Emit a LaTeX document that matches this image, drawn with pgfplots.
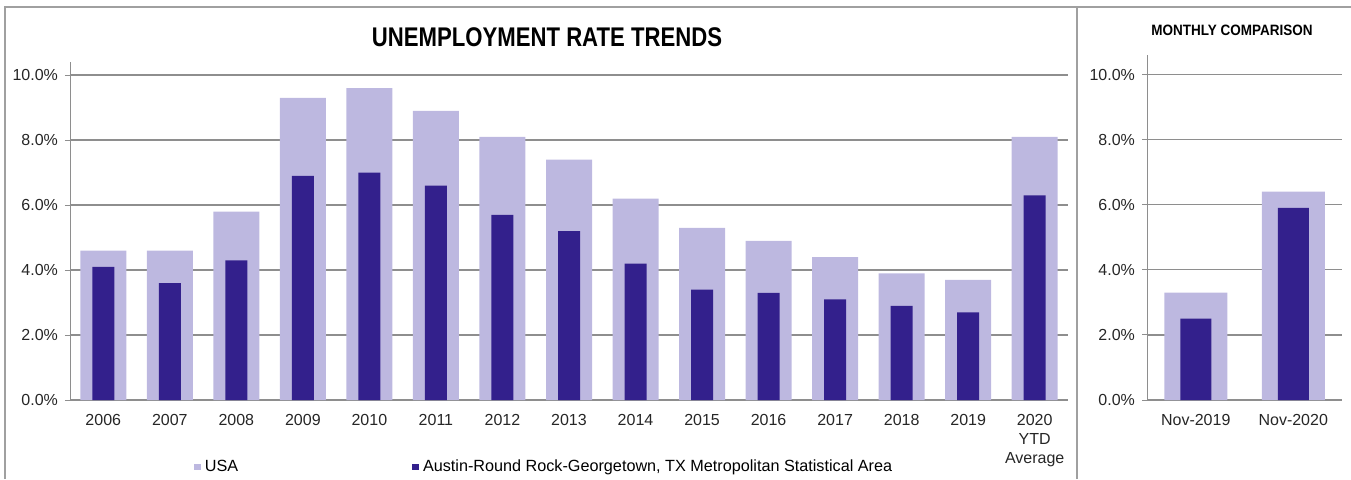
\documentclass[border=0pt]{standalone}
\usepackage{fontspec}
\setmainfont{Liberation Sans}
\newfontfamily\titlefont{Liberation Sans}[FakeStretch=0.82]
\newfontfamily\subtitlefont{Liberation Sans}[FakeStretch=0.9]
\usepackage{pgfplots}
\usepackage{pgfplotstable}
\pgfplotsset{compat=1.18}
\definecolor{usac}{HTML}{BDB8E0}
\definecolor{ausc}{HTML}{33208C}
\definecolor{gridc}{HTML}{8E8E8E}
\definecolor{framec}{HTML}{A0A0A0}

\pgfplotstableread{
x usa aus
0 4.6 4.1
1 4.6 3.6
2 5.8 4.3
3 9.3 6.9
4 9.6 7.0
5 8.9 6.6
6 8.1 5.7
7 7.4 5.2
8 6.2 4.2
9 5.3 3.4
10 4.9 3.3
11 4.4 3.1
12 3.9 2.9
13 3.7 2.7
14 8.1 6.3
}\annual

\pgfplotstableread{
x usa aus
0 3.3 2.5
1 6.4 5.9
}\monthly

\pgfplotsset{
  common/.style={
    scale only axis,
    ymin=0,
    axis x line*=bottom,
    axis y line*=left,
    axis line style={gridc,-},
    ymajorgrids,
    grid style={gridc,line width=0.6pt},
    ytick={0,2,4,6,8,10},
    yticklabel={\pgfmathprintnumber[fixed,fixed zerofill,precision=1]{\tick}\%},
    /pgf/number format/assume math mode=true,
    tick label style={font=\fontsize{8}{9.5}\selectfont, text=black!85},
    tick align=outside,
    major tick length=2.5pt,
    minor tick length=2.5pt,
    tick style={gridc, line width=0.5pt},
    xtick=data,
    x tick style={draw=none},
    minor x tick style={gridc, line width=0.5pt},
    xticklabel style={align=center, yshift=-1pt},
    clip=false,
  }
}

\begin{document}
\begin{tikzpicture}
\path[use as bounding box] (0pt,0pt) rectangle (675.5pt,239.5pt);
% frame
\draw[framec, line width=0.6pt] (2.5pt,0pt) -- (2.5pt,236pt) -- (675.5pt,236pt);
\draw[framec, line width=0.6pt] (538.5pt,0pt) -- (538.5pt,236pt);

\node[font=\titlefont\bfseries\fontsize{13.5}{15}\selectfont] at (273.5pt,221pt) {UNEMPLOYMENT RATE TRENDS};
\node[font=\subtitlefont\bfseries\fontsize{7.5}{9}\selectfont] at (616pt,224.5pt) {MONTHLY COMPARISON};

\begin{axis}[common,
  at={(35pt,39.5pt)}, anchor=south west,
  width=499pt, height=169pt,
  xmin=-0.5, xmax=14.5, ymax=10.4,
  minor xtick={-0.5,0.5,...,14.5},
  xticklabels={2006,2007,2008,2009,2010,2011,2012,2013,2014,2015,2016,2017,2018,2019,{2020\\YTD\\Average}},
  legend style={draw=none, fill=none, at={(0.124,-0.198)}, anchor=west,
    font=\fontsize{8.1}{9.5}\selectfont, legend columns=2,
    /tikz/every even column/.append style={column sep=85pt},
    inner sep=0pt},
  legend cell align=left,
  legend image code/.code={\fill[#1] (0pt,-1.7pt) rectangle (3.4pt,1.7pt);},
]
\addplot[ybar, bar width=23pt, bar shift=0pt, fill=usac, draw=none] table[x=x,y=usa]{\annual};
\addlegendentry{USA}
\addplot[ybar, bar width=11pt, bar shift=0pt, fill=ausc, draw=none] table[x=x,y=aus]{\annual};
\addlegendentry{Austin-Round Rock-Georgetown, TX Metropolitan Statistical Area}
\end{axis}

\begin{axis}[common,
  at={(573.5pt,39.5pt)}, anchor=south west,
  width=97.5pt, height=172.5pt,
  xmin=-0.5, xmax=1.5, ymax=10.6,
  minor xtick={-0.5,0.5,1.5},
  xticklabels={Nov-2019,Nov-2020},
]
\addplot[ybar, bar width=31.5pt, bar shift=0pt, fill=usac, draw=none] table[x=x,y=usa]{\monthly};
\addplot[ybar, bar width=15.5pt, bar shift=0pt, fill=ausc, draw=none] table[x=x,y=aus]{\monthly};
\end{axis}
\end{tikzpicture}
\end{document}
